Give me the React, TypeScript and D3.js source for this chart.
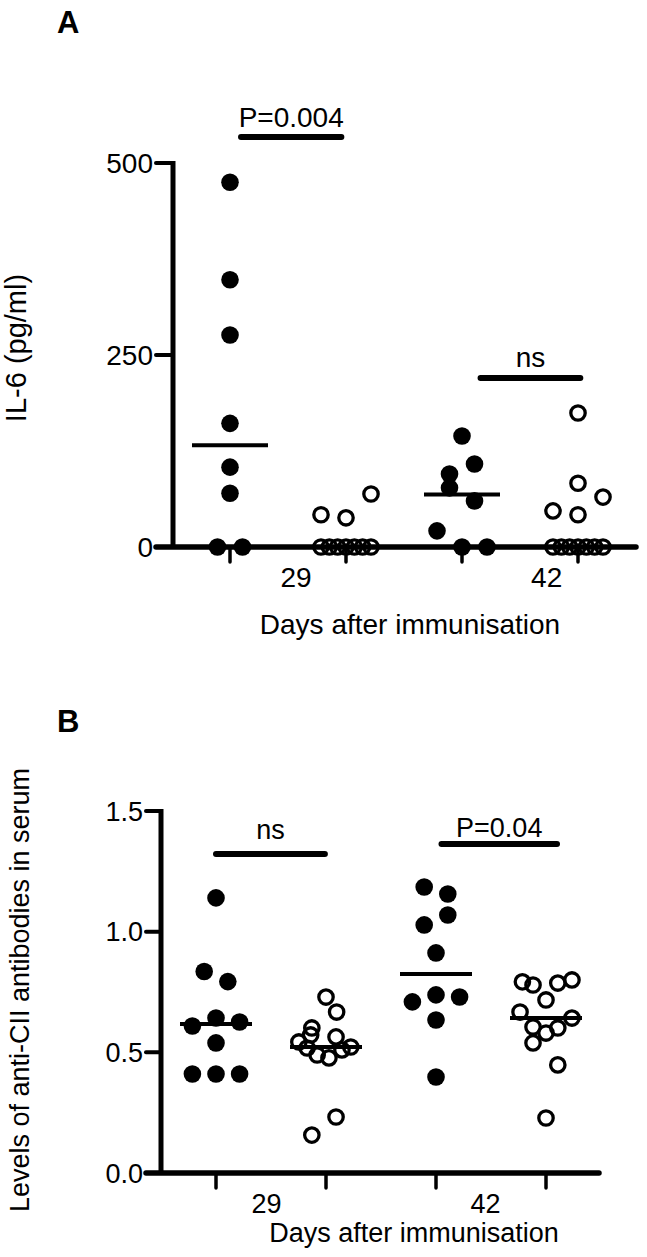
import React from "react";
import * as d3 from "d3";

// ---------- Panel A: IL-6 (pg/ml) ----------
const groupFilled = [true, false, true, false];
const dayLabels = ["29", "42"];
const dayLabelPosA = [0.57, 2.73]; // in group units
const dayLabelPosB = [0.46, 2.45];

const il6Values = [
  [475, 348, 276, 161, 104, 70, 0, 0],
  [42, 38, 69, 0, 0, 0, 0, 0, 0, 0],
  [144.5, 108, 95, 77, 60, 21, 0, 0],
  [174.5, 83, 65, 47, 42, 0, 0, 0, 0, 0, 0, 0],
];
const il6Jitter = [
  [0, 0, 0, 0, 0, 0, -1, 1],
  [-2, 0, 2, -2, -1.33, -0.67, 0, 0.67, 1.33, 2],
  [0, 1, -1, -1, 1, -2, 0, 2],
  [0, 0, 2, -2, 0, -2, -1.33, -0.67, 0, 0.67, 1.33, 2],
];
const il6Ticks = [0, 250, 500];
const il6Sig = [
  { from: 0.095, to: 0.96, value: 534, label: "P=0.004", gap: 10 },
  { from: 2.16, to: 3.02, value: 220, label: "ns", gap: 11 },
];

// ---------- Panel B: anti-CII antibodies ----------
const abValues = [
  [1.14, 0.835, 0.793, 0.642, 0.626, 0.609, 0.539, 0.41, 0.41, 0.41],
  [0.729, 0.667, 0.601, 0.564, 0.543, 0.572, 0.522, 0.518, 0.489, 0.477, 0.51, 0.232, 0.157],
  [1.185, 1.156, 1.069, 1.028, 0.912, 0.709, 0.738, 0.729, 0.634, 0.398],
  [0.792, 0.779, 0.787, 0.8, 0.717, 0.667, 0.642, 0.605, 0.601, 0.58, 0.539, 0.448, 0.228],
];
const abJitter = [
  [0, -1, 1, 0, 2, -2, 0, -2, 0, 2],
  [0, 0.9, -1.2, 0.85, -2.3, -1.3, 2.1, -1.6, -0.75, 0.25, 1.35, 0.85, -1.2],
  [-1, 1, 1, -1, 0, -2, 0, 2, 0, 0],
  [-2, -1.1, 1, 2.2, 0, -2.2, 2.2, -1.1, 1, 0, -1.1, 1, 0],
];
const abTicks = [0, 0.5, 1.0, 1.5];
const abSig = [
  { from: 0, to: 0.99, value: 1.322, label: "ns", gap: 15 },
  { from: 2.05, to: 3.1, value: 1.363, label: "P=0.04", gap: 7 },
];

const FONT = "'Liberation Sans', Arial, Helvetica, sans-serif";

type PanelProps = {
  values: number[][];
  jitter: number[][];
  ticks: number[];
  tickFmt: (v: number) => string;
  sig: { from: number; to: number; value: number; label: string; gap: number }[];
  dayPos: number[];
  yDomain: [number, number];
  yRange: [number, number];
  xRange: [number, number];
  axisX: number;
  axisLeft: number;
  axisRight: number;
  slot: number;
  halfLine: number;
  yTitle: string;
  yTitleX: number;
  yTitleY: number;
  yTitleSize: number;
  xTitleX: number;
  xTitleY: number;
  dayLabelY: number;
  letter: string;
  letterY: number;
  fontSize: number;
};

function Panel(p: PanelProps) {
  const y = d3.scaleLinear().domain(p.yDomain).range(p.yRange);
  const x = d3.scaleLinear().domain([0, 3]).range(p.xRange);
  const y0 = y(p.yDomain[0]);
  const yTop = y(p.yDomain[1]);
  const r = 8.8;
  return (
    <g>
      <text x={57} y={p.letterY} fontFamily={FONT} fontWeight="bold" fontSize={31}>
        {p.letter}
      </text>
      {/* y axis */}
      <line x1={p.axisX} x2={p.axisX} y1={yTop - 2} y2={y0} stroke="#000" strokeWidth={5} />
      {p.ticks.map((t) => (
        <g key={"yt" + t}>
          {t !== p.yDomain[0] && (
            <line x1={p.axisLeft} x2={p.axisX} y1={y(t)} y2={y(t)} stroke="#000" strokeWidth={4} strokeLinecap="round" />
          )}
          <text
            x={p.axisLeft - 3}
            y={y(t)}
            dy="0.36em"
            textAnchor="end"
            fontFamily={FONT}
            fontSize={p.fontSize}
          >
            {p.tickFmt(t)}
          </text>
        </g>
      ))}
      {/* x axis */}
      <line x1={p.axisLeft} x2={p.axisRight} y1={y0} y2={y0} stroke="#000" strokeWidth={5.5} strokeLinecap="round" />
      {[0, 1, 2, 3].map((g) => (
        <line key={"xt" + g} x1={x(g)} x2={x(g)} y1={y0} y2={y0 + 15} stroke="#000" strokeWidth={3.5} strokeLinecap="round" />
      ))}
      {dayLabels.map((d, i) => (
        <text key={d} x={x(p.dayPos[i])} y={p.dayLabelY} textAnchor="middle" fontFamily={FONT} fontSize={p.fontSize}>
          {d}
        </text>
      ))}
      <text x={p.xTitleX} y={p.xTitleY} textAnchor="middle" fontFamily={FONT} fontSize={p.fontSize}>
        Days after immunisation
      </text>
      <text
        transform={`translate(${p.yTitleX},${p.yTitleY}) rotate(-90)`}
        textAnchor="middle"
        fontFamily={FONT}
        fontSize={p.yTitleSize}
      >
        {p.yTitle}
      </text>
      {/* points */}
      {p.values.map((vals, g) =>
        vals.map((v, i) =>
          groupFilled[g] ? (
            <circle key={`p${g}-${i}`} cx={x(g) + p.jitter[g][i] * p.slot} cy={y(v)} r={r} fill="#000" />
          ) : (
            <circle
              key={`p${g}-${i}`}
              cx={x(g) + p.jitter[g][i] * p.slot}
              cy={y(v)}
              r={r - 1.6}
              fill="none"
              stroke="#000"
              strokeWidth={3.3}
            />
          )
        )
      )}
      {/* median lines */}
      {p.values.map((vals, g) => {
        const m = d3.median(vals) as number;
        return (
          <line
            key={"m" + g}
            x1={x(g) - p.halfLine}
            x2={x(g) + p.halfLine}
            y1={y(m)}
            y2={y(m)}
            stroke="#000"
            strokeWidth={4}
          />
        );
      })}
      {/* significance bars */}
      {p.sig.map((s) => (
        <g key={s.label}>
          <line x1={x(s.from)} x2={x(s.to)} y1={y(s.value)} y2={y(s.value)} stroke="#000" strokeWidth={6} strokeLinecap="round" />
          <text
            x={(x(s.from) + x(s.to)) / 2}
            y={y(s.value) - s.gap}
            textAnchor="middle"
            fontFamily={FONT}
            fontSize={p.fontSize}
          >
            {s.label}
          </text>
        </g>
      ))}
    </g>
  );
}

export default function App() {
  return (
    <svg
      width={647}
      height={1257}
      viewBox="0 0 647 1257"
      style={{ position: "absolute", left: 0, top: 0, background: "#fff" }}
    >
      <rect width={647} height={1257} fill="#fff" />
      <Panel
        values={il6Values}
        jitter={il6Jitter}
        ticks={il6Ticks}
        tickFmt={(v) => String(v)}
        sig={il6Sig}
        dayPos={dayLabelPosA}
        yDomain={[0, 500]}
        yRange={[547, 163]}
        xRange={[230, 578]}
        axisX={173}
        axisLeft={156}
        axisRight={636}
        slot={12.5}
        halfLine={38}
        yTitle="IL-6 (pg/ml)"
        yTitleX={26}
        yTitleY={348}
        yTitleSize={29}
        xTitleX={410}
        xTitleY={634}
        dayLabelY={587}
        letter="A"
        letterY={33}
        fontSize={28}
      />
      <Panel
        values={abValues}
        jitter={abJitter}
        ticks={abTicks}
        tickFmt={d3.format(".1f")}
        sig={abSig}
        dayPos={dayLabelPosB}
        yDomain={[0, 1.5]}
        yRange={[1173, 811]}
        xRange={[216, 546]}
        axisX={161}
        axisLeft={146}
        axisRight={599}
        slot={11.8}
        halfLine={36}
        yTitle="Levels of anti-CII antibodies in serum"
        yTitleX={29}
        yTitleY={990}
        yTitleSize={27}
        xTitleX={414}
        xTitleY={1242}
        dayLabelY={1213}
        letter="B"
        letterY={732}
        fontSize={27}
      />
    </svg>
  );
}
